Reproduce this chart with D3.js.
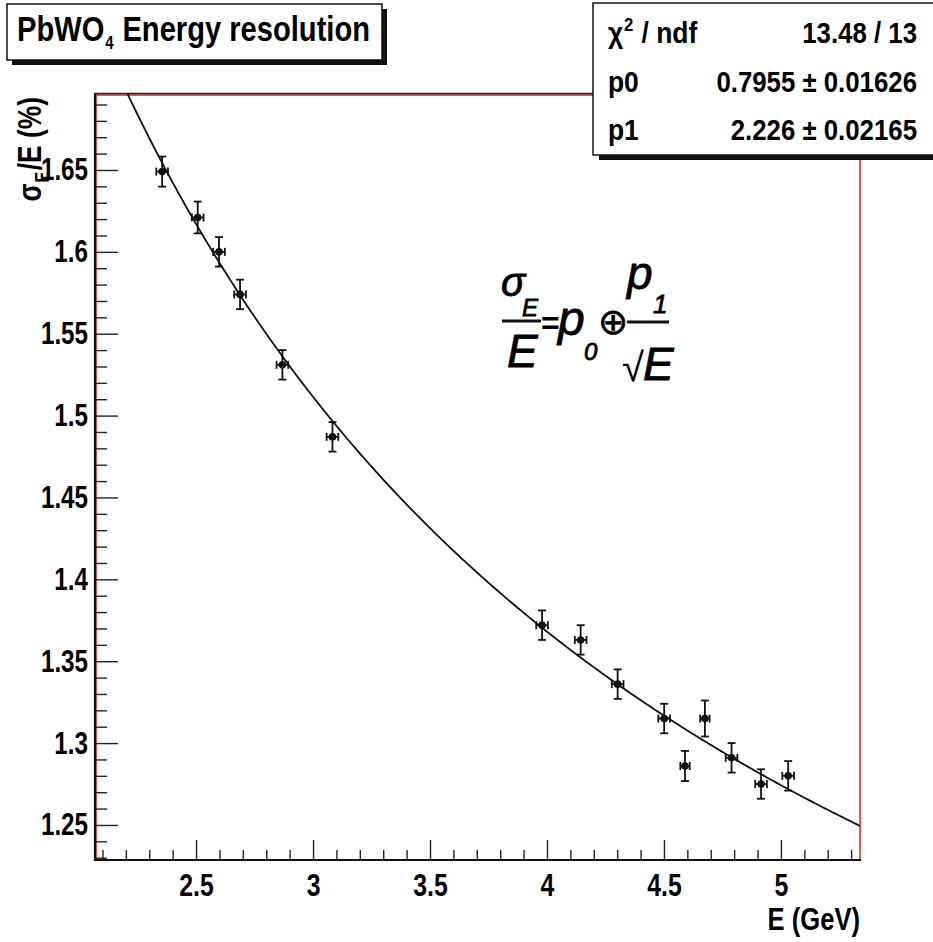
<!DOCTYPE html>
<html><head><meta charset="utf-8">
<script src="https://cdn.jsdelivr.net/npm/d3@7"></script>
<style>
body{margin:0;background:#fff}
svg text{font-family:"Liberation Sans",Arial,Helvetica,sans-serif;font-weight:bold;fill:#000}
</style>
</head><body><svg id="c" width="933" height="942"></svg>
<script>
// ---- data ----
const energy        = [2.355, 2.507, 2.598, 2.688, 2.869, 3.083, 3.979, 4.144, 4.302, 4.501, 4.590, 4.675, 4.789, 4.915, 5.031];
const resolution    = [1.649, 1.621, 1.600, 1.574, 1.531, 1.487, 1.372, 1.363, 1.336, 1.315, 1.286, 1.315, 1.291, 1.275, 1.280];
const energyErr     = [0.025, 0.025, 0.025, 0.025, 0.025, 0.025, 0.025, 0.025, 0.025, 0.025, 0.020, 0.020, 0.025, 0.025, 0.025];
const resolutionErr = [0.0092, 0.0097, 0.0090, 0.0090, 0.0090, 0.0090, 0.0090, 0.0090, 0.0090, 0.0090, 0.0092, 0.0110, 0.0090, 0.0090, 0.0090];
const xTickValues = [2.5, 3, 3.5, 4, 4.5, 5];
const xTickLabels = ["2.5", "3", "3.5", "4", "4.5", "5"];
const yTickValues = [1.25, 1.3, 1.35, 1.4, 1.45, 1.5, 1.55, 1.6, 1.65];
const yTickLabels = ["1.25", "1.3", "1.35", "1.4", "1.45", "1.5", "1.55", "1.6", "1.65"];
const fitNames  = ["p0", "p1"];
const fitValues = [0.7955, 2.226];
const fitErrors = ["0.01626", "0.02165"];
const chi2 = "13.48", ndf = "13";
const xDomain = [2.068, 5.338];
const yDomain = [1.2286, 1.6964];

// condense single-run text horizontally (the reference uses a narrow Helvetica)
function condense(sel, f) {
  sel.each(function() {
    const w = this.getComputedTextLength();
    d3.select(this).attr("textLength", w * f).attr("lengthAdjust", "spacingAndGlyphs");
  });
  return sel;
}
// condensed, right-aligned text via a transform
function rightText(parent, xr, yb, size, f, str) {
  return parent.append("text").attr("transform", `translate(${xr},${yb}) scale(${f},1)`)
    .attr("text-anchor", "end").style("font-size", size + "px").text(str);
}

// ---- layout ----
const L = 95, R = 860, T = 94, B = 860;
const svg = d3.select("#c");
const x = d3.scaleLinear().domain(xDomain).range([L, R]);
const y = d3.scaleLinear().domain(yDomain).range([B, T]);

svg.append("defs").append("clipPath").attr("id","clip")
  .append("rect").attr("x",L).attr("y",T).attr("width",R-L).attr("height",B-T);

// frame (red)
svg.append("rect").attr("x",L+1).attr("y",T+1).attr("width",R-L-1).attr("height",B-T-1)
  .attr("fill","none").attr("stroke","#cc3333").attr("stroke-width",1.6);
svg.append("line").attr("x1",L).attr("x2",R).attr("y1",T-0.5).attr("y2",T-0.5).attr("stroke","#222").attr("stroke-width",1.4);

// x axis
const xMinor = d3.range(21, 54).map(v => v/10).filter(v => !xTickValues.some(t => Math.abs(t-v) < 1e-6));
const xg = svg.append("g").attr("transform",`translate(0,${B})`);
xg.append("g").call(d3.axisBottom(x).tickValues(xMinor).tickSize(-10).tickFormat(""))
  .call(g => g.select(".domain").remove());
const xa = xg.append("g").call(d3.axisBottom(x).tickValues(xTickValues).tickSize(-20).tickPadding(14)
  .tickFormat((d,i) => xTickLabels[i]));
xa.select(".domain").remove();
xg.selectAll(".tick line").attr("stroke","#222").attr("stroke-width",1.4);
xa.selectAll("text").attr("font-family",null).style("font-size","31px");
condense(xa.selectAll("text"), 0.8);
xg.append("line").attr("x1",L-1).attr("x2",R+1).attr("y1",0).attr("y2",0).attr("stroke","#111").attr("stroke-width",2.2);

// y axis
const yMinor = d3.range(123, 170).map(v => v/100).filter(v => !yTickValues.some(t => Math.abs(t-v) < 1e-6));
const yg = svg.append("g").attr("transform",`translate(${L},0)`);
yg.append("g").call(d3.axisLeft(y).tickValues(yMinor).tickSize(-12).tickFormat(""))
  .call(g => g.select(".domain").remove());
const ya = yg.append("g").call(d3.axisLeft(y).tickValues(yTickValues).tickSize(-23).tickPadding(7)
  .tickFormat((d,i) => yTickLabels[i]));
ya.select(".domain").remove();
yg.selectAll(".tick line").attr("stroke","#222").attr("stroke-width",1.4);
ya.selectAll("text").attr("font-family",null).style("font-size","31px").attr("x",-7);
condense(ya.selectAll("text"), 0.78);
yg.append("line").attr("x1",0).attr("x2",0).attr("y1",T-1).attr("y2",B+1).attr("stroke","#111").attr("stroke-width",2.2);

// axis titles
rightText(svg, R, 930, 32, 0.8, "E (GeV)");
const yt = svg.append("text").attr("transform",`translate(41,97) rotate(-90) scale(0.8,1)`).attr("text-anchor","end").style("font-size","33px");
yt.append("tspan").text("σ");
yt.append("tspan").attr("dy",8).attr("dx",1).style("font-size","20px").text("E");
yt.append("tspan").attr("dy",-8).attr("dx",2).text("/E (%)");

// fit curve
const fitE = d3.range(xDomain[0], xDomain[1] + 0.005, 0.01);
const fitF = e => Math.sqrt(fitValues[0]*fitValues[0] + fitValues[1]*fitValues[1]/e);
svg.append("path").attr("clip-path","url(#clip)")
  .attr("d", d3.line().x(e => x(e)).y(e => y(fitF(e)))(fitE))
  .attr("fill","none").attr("stroke","#111").attr("stroke-width",1.8);

// data points with error bars
const pts = svg.append("g").attr("stroke","#111").attr("stroke-width",1.8);
energy.forEach((e,i) => {
  const cx = x(e), cy = y(resolution[i]);
  const y1 = y(resolution[i]-resolutionErr[i]), y2 = y(resolution[i]+resolutionErr[i]);
  const x1 = x(e-energyErr[i]), x2 = x(e+energyErr[i]);
  const g = pts.append("g");
  g.append("line").attr("x1",cx).attr("x2",cx).attr("y1",y1).attr("y2",y2);
  g.append("line").attr("x1",x1).attr("x2",x2).attr("y1",cy).attr("y2",cy);
  g.append("line").attr("x1",cx-4).attr("x2",cx+4).attr("y1",y1).attr("y2",y1);
  g.append("line").attr("x1",cx-4).attr("x2",cx+4).attr("y1",y2).attr("y2",y2);
  g.append("line").attr("x1",x1).attr("x2",x1).attr("y1",cy-4).attr("y2",cy+4);
  g.append("line").attr("x1",x2).attr("x2",x2).attr("y1",cy-4).attr("y2",cy+4);
  g.append("circle").attr("cx",cx).attr("cy",cy).attr("r",3.8).attr("fill","#111").attr("stroke","none");
});

// formula
const fx = svg.append("g").attr("class","formula");
const it = (tx,ty,size,str) => fx.append("text").attr("x",tx).attr("y",ty).style("font-size",size+"px")
  .style("font-style","italic").style("font-weight","normal").style("stroke","#000").style("stroke-width","0.8").text(str);
it(501,296,40,"σ");
it(522,316,24,"E");
fx.append("line").attr("x1",502).attr("x2",541).attr("y1",321).attr("y2",321).attr("stroke","#111").attr("stroke-width",3);
it(507,367,46,"E");
fx.append("text").attr("x",541).attr("y",334).style("font-size","32px").style("font-weight","bold").text("=");
it(558,335,48,"p");
it(584,360,24,"0");
fx.append("text").attr("x",613).attr("y",334).attr("text-anchor","middle").style("font-family","DejaVu Sans").style("font-size","36px").style("font-weight","normal").style("stroke","#000").style("stroke-width","0.6").text("⊕");
fx.append("line").attr("x1",627).attr("x2",669).attr("y1",322).attr("y2",322).attr("stroke","#111").attr("stroke-width",3);
it(627,289,46,"p");
it(653,313,26,"1");
fx.append("text").attr("x",622).attr("y",381).style("font-size","40px").style("font-weight","normal").text("√");
it(643,380,46,"E");

// title box
svg.append("rect").attr("x",12).attr("y",9).attr("width",375).attr("height",56).attr("fill","#111");
svg.append("rect").attr("x",7).attr("y",4).attr("width",375).attr("height",56).attr("fill","#fff").attr("stroke","#111").attr("stroke-width",1.5);
const tt = svg.append("text").attr("transform","translate(17,41) scale(0.86,1)").style("font-size","35px");
tt.append("tspan").text("PbWO");
tt.append("tspan").attr("dy",8).attr("dx",1).style("font-size","18px").text("4");
tt.append("tspan").attr("dy",-8).attr("dx",1).text(" Energy resolution");
{ // fit the title to the box width
  const w = tt.node().getBBox().width;
  tt.attr("transform",`translate(17,41) scale(${353/w},1)`);
}

// stats box
svg.append("rect").attr("x",599).attr("y",8).attr("width",340).attr("height",152).attr("fill","#111");
svg.append("rect").attr("x",593).attr("y",3).attr("width",345).attr("height",152).attr("fill","#fff").attr("stroke","#111").attr("stroke-width",1.5);
const rows = [
  {name: null, val: `${chi2} / ${ndf}`},
  {name: fitNames[0], val: `${d3.format(".4f")(fitValues[0])} ± ${fitErrors[0]}`},
  {name: fitNames[1], val: `${d3.format(".3f")(fitValues[1])} ± ${fitErrors[1]}`}
];
const baselines = [43, 92, 140];
rows.forEach((r,i) => {
  const lt = svg.append("text").attr("transform",`translate(608,${baselines[i]}) scale(0.88,1)`).style("font-size","30px");
  if (r.name === null) {
    lt.append("tspan").text("χ");
    lt.append("tspan").attr("dy",-12).attr("dx",1).style("font-size","19px").text("2");
    lt.append("tspan").attr("dy",12).attr("dx",1).text(" / ndf");
  } else lt.text(r.name);
  rightText(svg, 917, baselines[i], 30, 0.86, r.val);
});
</script>
</body></html>
